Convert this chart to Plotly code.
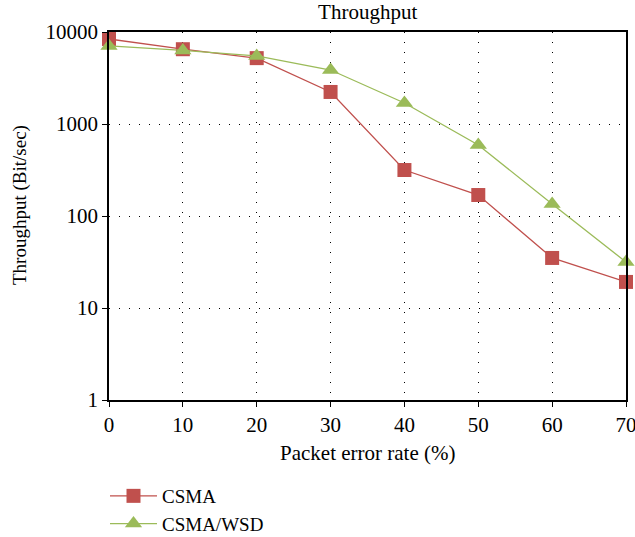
import plotly.graph_objects as go

# Packet error rate (%) on the x axis
error_rate = [0, 10, 20, 30, 40, 50, 60, 70]

# Throughput (Bit/sec) per protocol
csma = [8400, 6500, 5200, 2230, 316, 169, 35, 19.2]
csma_wsd = [7050, 6300, 5500, 3860, 1690, 592, 135, 31.6]

y_tick_vals = [1, 10, 100, 1000, 10000]
y_tick_text = ["1", "10", "100", "1000", "10000"]
x_tick_vals = [0, 10, 20, 30, 40, 50, 60, 70]

RED = "#C0504D"
GREEN = "#9BBB59"
FONT = "Liberation Serif"

# plot area in pixels, used to place the axis titles
W, H = 635, 537
L, R, T, B = 109, 9, 32, 137
PW, PH = W - L - R, H - T - B

fig = go.Figure()
fig.add_trace(go.Scatter(
    x=error_rate, y=csma, name="CSMA", mode="lines+markers",
    line=dict(color=RED, width=1.3),
    marker=dict(symbol="square", size=14, color=RED),
    cliponaxis=False,
))
fig.add_trace(go.Scatter(
    x=error_rate, y=csma_wsd, name="CSMA/WSD", mode="lines+markers",
    line=dict(color=GREEN, width=1.3),
    marker=dict(symbol="triangle-up", size=15, color=GREEN),
    cliponaxis=False,
))

fig.update_layout(
    width=W, height=H,
    margin=dict(l=L, r=R, t=T, b=B, autoexpand=False),
    paper_bgcolor="white", plot_bgcolor="white",
    font=dict(family=FONT, size=21, color="black"),
    title=dict(text="Throughput", x=0.579, xanchor="center",
               yref="container", y=0.992, yanchor="top",
               font=dict(family=FONT, size=21, color="black")),
    showlegend=True,
    legend=dict(xref="container", x=105 / W, xanchor="left",
                yref="container", y=1 - 477 / H, yanchor="top",
                font=dict(family=FONT, size=19, color="black"),
                bgcolor="rgba(0,0,0,0)", tracegroupgap=0, itemwidth=47),
    annotations=[
        dict(text="Packet error rate (%)", xref="paper", x=0.5, xanchor="center",
             yref="paper", y=(T + PH - 453) / PH, yanchor="middle",
             showarrow=False, font=dict(family=FONT, size=21)),
        dict(text="Throughput (Bit/sec)", xref="paper", x=(20 - L) / PW, xanchor="center",
             yref="paper", y=(T + PH - 205) / PH, yanchor="middle", textangle=-90,
             showarrow=False, font=dict(family=FONT, size=19)),
    ],
)

fig.update_xaxes(
    range=[0, 70], tickvals=x_tick_vals, automargin=False,
    ticklabeloverflow="allow",
    showline=True, linecolor="black", linewidth=1.5, mirror=True,
    ticks="outside", ticklen=5, tickcolor="black",
    tickfont=dict(family=FONT, size=21),
    showgrid=True, gridcolor="black", gridwidth=1, griddash="1px,9px",
    zeroline=False,
)
fig.update_yaxes(
    type="log", range=[0, 4], tickvals=y_tick_vals, ticktext=y_tick_text,
    automargin=False, ticklabeloverflow="allow",
    showline=True, linecolor="black", linewidth=1.5, mirror=True,
    ticks="outside", ticklen=5, tickcolor="black",
    tickfont=dict(family=FONT, size=21),
    showgrid=True, gridcolor="black", gridwidth=1, griddash="1px,9px",
    zeroline=False,
)

fig.write_html("out.html")
